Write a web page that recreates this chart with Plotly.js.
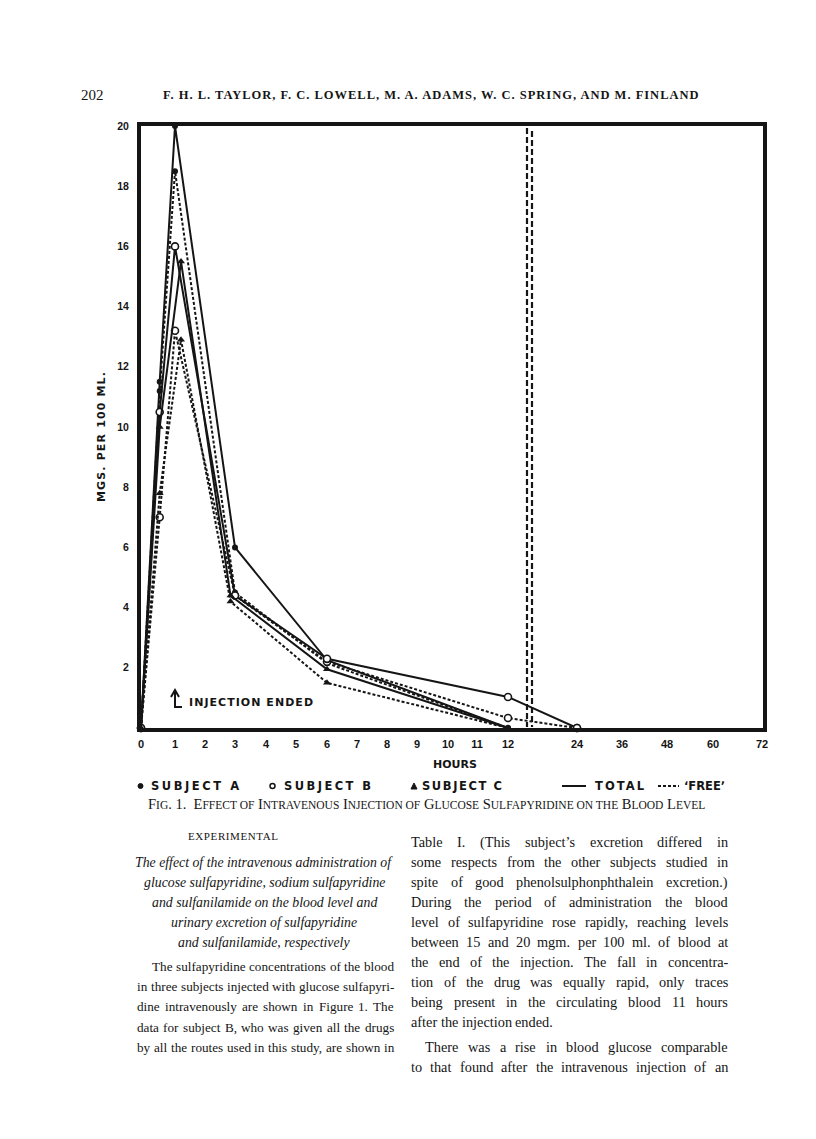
<!DOCTYPE html>
<html>
<head>
<meta charset="utf-8">
<script src="https://cdn.plot.ly/plotly-3.0.1.min.js"></script>
<style>html,body{margin:0;padding:0;background:#fff;}#chart{width:816px;height:1139px;}</style>
</head>
<body>
<div id="chart"></div>
<script>
// ---------- data ----------
const hoursA = [0, 0.55, 1, 3, 6, 12];
const subjectATotal = [0, 11.5, 20.0, 6.0, 2.25, 0];
const subjectAFree  = [0, 11.2, 18.5, 4.5, 2.15, 0];

const hoursB = [0, 0.55, 1, 3, 6, 12, 24];
const subjectBTotal = [0, 10.5, 16.0, 4.4, 2.3, 1.03, 0];
const subjectBFree  = [0, 7.0, 13.2, 4.4, 2.2, 0.33, 0];

const hoursC = [0, 0.55, 1.2, 2.85, 6, 12];
const subjectCTotal = [0, 10.0, 15.5, 4.4, 1.95, 0];
const subjectCFree  = [0, 7.8, 12.9, 4.2, 1.5, 0];

const xTickHours = [0,1,2,3,4,5,6,7,8,9,10,11,12,24,36,48,60,72];
const yTickVals = [2,4,6,8,10,12,14,16,18,20];

// ---------- layout geometry ----------
const PL = 141, PR = 763, PT = 126, PB = 728;
// axis position (offset from left edge) of each tick on the broken hour scale
const xTickOffset = [0,34,64,94,125,155,186,216,246,276,307,336,367,436,481,526,572,621];
function hoursToAxis(h){
  for (let i = 0; i < xTickHours.length - 1; i++){
    const h0 = xTickHours[i], h1 = xTickHours[i+1];
    if (h >= h0 && h <= h1){
      return xTickOffset[i] + (h - h0) / (h1 - h0) * (xTickOffset[i+1] - xTickOffset[i]);
    }
  }
  return xTickOffset[xTickOffset.length-1];
}
const px = p => (p - PL) / (PR - PL);
const py = p => (PB - p) / (PB - PT);

const INK = '#151515';
function series(hours, vals, dash, marker){
  return {
    x: hours.map(hoursToAxis), y: vals, type: 'scatter', mode: 'lines+markers',
    line: {color: INK, width: 2, dash: dash},
    marker: marker, cliponaxis: false, showlegend: false, hoverinfo: 'skip'
  };
}
const mA = {symbol: 'circle', size: 6, color: INK};
const mB = {symbol: 'circle', size: 7, color: '#fff', line: {color: INK, width: 1.6}};
const mC = {symbol: 'triangle-up', size: 7, color: INK};

const traces = [
  series(hoursA, subjectAFree, '3px,2px', mA),
  series(hoursB, subjectBFree, '3px,2px', mB),
  series(hoursC, subjectCFree, '3px,2px', mC),
  series(hoursA, subjectATotal, 'solid', mA),
  series(hoursB, subjectBTotal, 'solid', mB),
  series(hoursC, subjectCTotal, 'solid', mC)
];

const SANS = 'DejaVu Sans';
const SERIF = 'Liberation Serif';

// text measuring for spacing / justification
const ctx = document.createElement('canvas').getContext('2d');
function measure(text, f){
  ctx.font = (f.style || 'normal') + ' ' + (f.weight || 'normal') + ' ' + f.size + 'px "' + f.family + '"';
  return ctx.measureText(text).width;
}
const annotations = [];
function ann(text, x, y, font, opts){
  annotations.push(Object.assign({text: text, x: px(x), y: py(y), xref: 'paper', yref: 'paper',
    showarrow: false, xanchor: 'left', yanchor: 'middle', borderpad: 0,
    font: Object.assign({color: INK}, font)}, opts || {}));
}
// text stretched with letter spacing to span a target width
function spaced(text, x, y, width, font, opts){
  const w = measure(text, font);
  const ls = Math.max(0, (width - w) / Math.max(1, text.length - 1));
  ann('<span style="letter-spacing:' + ls.toFixed(2) + 'px">' + text + '</span>', x, y, font, opts);
}
// justified line built from individually placed words
function line(text, x0, x1, y, font, justify){
  const words = text.split(/\s+/).filter(Boolean);
  const widths = words.map(w => measure(w, font));
  const total = widths.reduce((a, b) => a + b, 0);
  const gap = (justify && words.length > 1) ? (x1 - x0 - total) / (words.length - 1) : measure(' ', font);
  let x = x0;
  words.forEach((w, i) => { ann(w, x, y, font); x += widths[i] + gap; });
}

const boldSans = s => ({family: SANS, size: s, weight: 'bold'});

ann('202', 80, 95, {family: SERIF, size: 15});
spaced('F. H. L. TAYLOR, F. C. LOWELL, M. A. ADAMS, W. C. SPRING, AND M. FINLAND', 162, 95, 538,
       {family: SERIF, size: 12.5, weight: 'bold'});
spaced('MGS. PER 100 ML.', 101, 437, 130, boldSans(11), {xanchor: 'center', textangle: -90});
spaced('HOURS', 432, 764, 44, boldSans(11));
spaced('INJECTION ENDED', 188, 702, 124, boldSans(11));
spaced('SUBJECT A', 150, 786, 88, boldSans(11.5));
spaced('SUBJECT B', 283, 786, 87, boldSans(11.5));
spaced('SUBJECT C', 421, 786, 80, boldSans(11.5));
spaced('TOTAL', 594, 786, 49, boldSans(11.5));
spaced('\u02BBFREE\u02BC', 683, 786, 39, boldSans(11.5));

const sm = t => '<span style="font-size:11.5px">' + t + '</span>';
ann('F' + sm('IG') + '. 1.  E' + sm('FFECT OF') + ' I' + sm('NTRAVENOUS') + ' I' + sm('NJECTION OF') + ' G' +
    sm('LUCOSE') + ' S' + sm('ULFAPYRIDINE ON THE') + ' B' + sm('LOOD') + ' L' + sm('EVEL'),
    147, 804, {family: SERIF, size: 14.5});
spaced('EXPERIMENTAL', 187, 836, 90, {family: SERIF, size: 11});

const italicLines = [
  'The effect of the intravenous administration of',
  'glucose sulfapyridine, sodium sulfapyridine',
  'and sulfanilamide on the blood level and',
  'urinary excretion of sulfapyridine',
  'and sulfanilamide, respectively'
];
italicLines.forEach((t, i) => ann('<i>' + t + '</i>', 264, 862 + i * 20,
  {family: SERIF, size: 13.8}, {xanchor: 'center'}));

const bodyL = {family: SERIF, size: 13.2};
const leftBody = [
  ['The sulfapyridine concentrations of the blood', 151, true],
  ['in three subjects injected with glucose sulfapyri-', 136, true],
  ['dine intravenously are shown in Figure 1.  The', 136, true],
  ['data for subject B, who was given all the drugs', 136, true],
  ['by all the routes used in this study, are shown in', 136, true]
];
leftBody.forEach((l, i) => line(l[0], l[1], 393, 967 + i * 20, bodyL, l[2]));

const bodyR = {family: SERIF, size: 14.3};
const rightBody = [
  ['Table I.  (This subject\u2019s excretion differed in', 410, 842, true],
  ['some respects from the other subjects studied in', 410, 862, true],
  ['spite of good phenolsulphonphthalein excretion.)', 410, 882, true],
  ['During the period of administration the blood', 410, 902, true],
  ['level of sulfapyridine rose rapidly, reaching levels', 410, 922, true],
  ['between 15 and 20 mgm. per 100 ml. of blood at', 410, 942, true],
  ['the end of the injection.  The fall in concentra-', 410, 962, true],
  ['tion of the drug was equally rapid, only traces', 410, 982, true],
  ['being present in the circulating blood 11 hours', 410, 1002, true],
  ['after the injection ended.', 410, 1022, false],
  ['There was a rise in blood glucose comparable', 424, 1047, true],
  ['to that found after the intravenous injection of an', 410, 1067, true]
];
rightBody.forEach(l => line(l[0], l[1], 727, l[2], bodyR, l[3]));

const P = (x, y) => px(x).toFixed(5) + ',' + py(y).toFixed(5);
const shapes = [
  // broken-scale double dashed line between 12 and 24 hours
  {type: 'line', xref: 'paper', yref: 'paper', x0: px(527), x1: px(527), y0: py(128), y1: py(727),
   line: {color: INK, width: 2.2, dash: '6px,3px'}},
  {type: 'line', xref: 'paper', yref: 'paper', x0: px(532), x1: px(532), y0: py(131), y1: py(727),
   line: {color: INK, width: 2.2, dash: '6px,3px'}},
  // "injection ended" arrow
  {type: 'path', xref: 'paper', yref: 'paper', path: 'M' + P(175, 691) + ' L' + P(175, 707) + ' L' + P(182, 707),
   line: {color: INK, width: 2}},
  {type: 'path', xref: 'paper', yref: 'paper', path: 'M' + P(171, 697) + ' L' + P(175, 690) + ' L' + P(179, 697),
   line: {color: INK, width: 2}},
  // legend symbols
  {type: 'circle', xref: 'paper', yref: 'paper', x0: px(138), x1: px(143), y0: py(788.5), y1: py(783.5),
   fillcolor: INK, line: {color: INK, width: 1}},
  {type: 'circle', xref: 'paper', yref: 'paper', x0: px(270), x1: px(275), y0: py(788.5), y1: py(783.5),
   fillcolor: '#fff', line: {color: INK, width: 1.5}},
  {type: 'path', xref: 'paper', yref: 'paper', path: 'M' + P(411, 789) + ' L' + P(414, 783) + ' L' + P(417, 789) + ' Z',
   fillcolor: INK, line: {color: INK, width: 1}},
  {type: 'line', xref: 'paper', yref: 'paper', x0: px(562), x1: px(586), y0: py(786), y1: py(786),
   line: {color: INK, width: 2}},
  {type: 'line', xref: 'paper', yref: 'paper', x0: px(658), x1: px(679), y0: py(786), y1: py(786),
   line: {color: INK, width: 2, dash: '3px,2px'}}
];

const layout = {
  width: 816, height: 1139,
  margin: {l: PL, r: 816 - PR, t: PT, b: 1139 - PB, pad: 0},
  paper_bgcolor: '#fff', plot_bgcolor: '#fff',
  showlegend: false,
  xaxis: {
    range: [0, PR - PL], tickmode: 'array',
    tickvals: xTickHours.map(hoursToAxis), ticktext: xTickHours.map(String),
    showgrid: false, zeroline: false, ticks: '',
    showline: true, mirror: true, linewidth: 4, linecolor: INK,
    tickfont: {family: 'Liberation Sans', size: 11, weight: 'bold', color: INK},
    ticklabelstandoff: 3, fixedrange: true
  },
  yaxis: {
    range: [0, 20], tickmode: 'array', tickvals: yTickVals, ticktext: yTickVals.map(String),
    showgrid: false, zeroline: false, ticks: '',
    showline: true, mirror: true, linewidth: 4, linecolor: INK,
    tickfont: {family: 'Liberation Sans', size: 10.5, weight: 'bold', color: INK},
    ticklabelstandoff: 6, fixedrange: true
  },
  annotations: annotations,
  shapes: shapes
};

Plotly.newPlot('chart', traces, layout, {staticPlot: true, displayModeBar: false});
</script>
</body>
</html>
